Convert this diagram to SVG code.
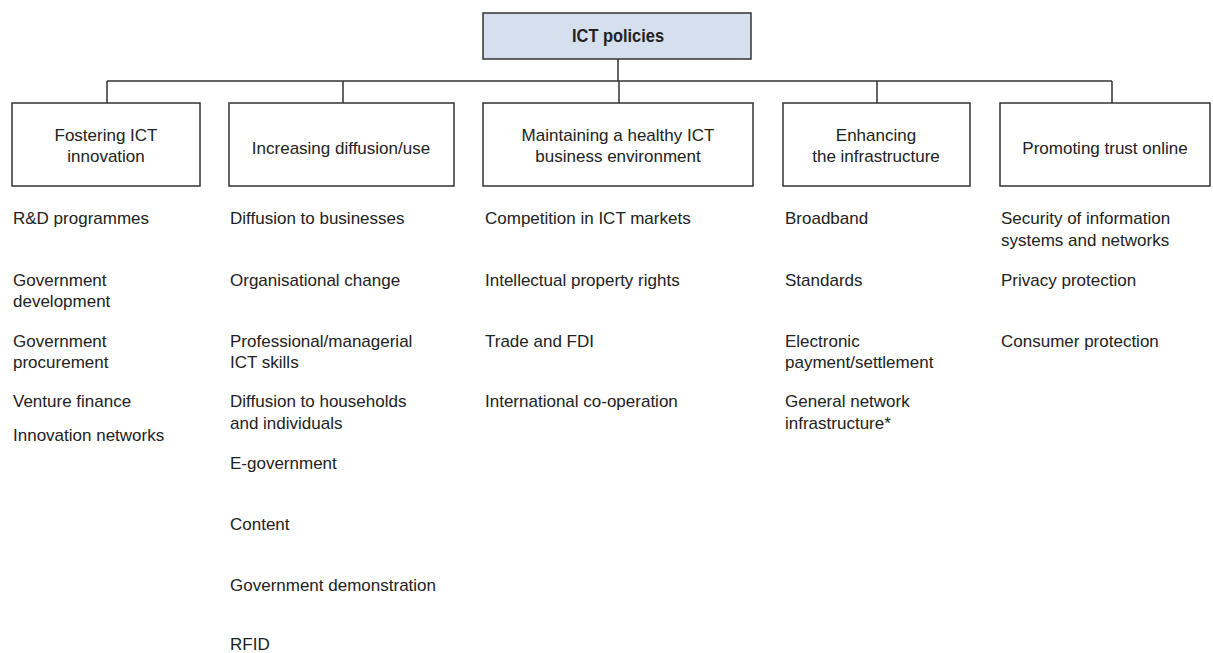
<svg xmlns="http://www.w3.org/2000/svg" width="1213" height="653" viewBox="0 0 1213 653">
<style>
.box{fill:#ffffff;stroke:#333333;stroke-width:1.5}
.top{fill:#d5dfee;stroke:#333333;stroke-width:1.5}
.ln{fill:none;stroke:#333333;stroke-width:1.5}
text{font-family:"Liberation Sans",Arial,sans-serif;font-size:17px;fill:#222222}
.c{text-anchor:middle}
.b{font-weight:bold;font-size:19px}
</style>
<rect width="1213" height="653" fill="#ffffff"/>
<g id="connectors">
<path class="ln" d="M618,59 V81 M107,81 H1112 M107,81 V103 M343,81 V103 M619,81 V103 M877,81 V103 M1112,81 V103"/>
</g>
<g id="root">
<rect class="top" x="483" y="13" width="268" height="46"/>
<text class="c b" x="618" y="42" textLength="92" lengthAdjust="spacingAndGlyphs">ICT policies</text>
</g>
<g id="n1">
<rect class="box" x="12" y="103" width="188" height="83"/>
<text class="c" x="106" y="141">Fostering ICT</text>
<text class="c" x="106" y="162">innovation</text>
</g>
<g id="n2">
<rect class="box" x="229" y="103" width="225" height="83"/>
<text class="c" x="341" y="154">Increasing diffusion/use</text>
</g>
<g id="n3">
<rect class="box" x="483" y="103" width="270" height="83"/>
<text class="c" x="618" y="141">Maintaining a healthy ICT</text>
<text class="c" x="618" y="162">business environment</text>
</g>
<g id="n4">
<rect class="box" x="783" y="103" width="187" height="83"/>
<text class="c" x="876" y="141">Enhancing</text>
<text class="c" x="876" y="162">the infrastructure</text>
</g>
<g id="n5">
<rect class="box" x="1000" y="103" width="210" height="83"/>
<text class="c" x="1105" y="154">Promoting trust online</text>
</g>
<g id="list1">
<text x="13" y="224">R&amp;D programmes</text>
<text x="13" y="286">Government</text>
<text x="13" y="307">development</text>
<text x="13" y="347">Government</text>
<text x="13" y="368">procurement</text>
<text x="13" y="407">Venture finance</text>
<text x="13" y="441">Innovation networks</text>
</g>
<g id="list2">
<text x="230" y="224">Diffusion to businesses</text>
<text x="230" y="286">Organisational change</text>
<text x="230" y="347">Professional/managerial</text>
<text x="230" y="368">ICT skills</text>
<text x="230" y="407">Diffusion to households</text>
<text x="230" y="429">and individuals</text>
<text x="230" y="469">E-government</text>
<text x="230" y="530">Content</text>
<text x="230" y="591">Government demonstration</text>
<text x="230" y="650">RFID</text>
</g>
<g id="list3">
<text x="485" y="224">Competition in ICT markets</text>
<text x="485" y="286">Intellectual property rights</text>
<text x="485" y="347">Trade and FDI</text>
<text x="485" y="407">International co-operation</text>
</g>
<g id="list4">
<text x="785" y="224">Broadband</text>
<text x="785" y="286">Standards</text>
<text x="785" y="347">Electronic</text>
<text x="785" y="368">payment/settlement</text>
<text x="785" y="407">General network</text>
<text x="785" y="429">infrastructure*</text>
</g>
<g id="list5">
<text x="1001" y="224">Security of information</text>
<text x="1001" y="246">systems and networks</text>
<text x="1001" y="286">Privacy protection</text>
<text x="1001" y="347">Consumer protection</text>
</g>
</svg>
